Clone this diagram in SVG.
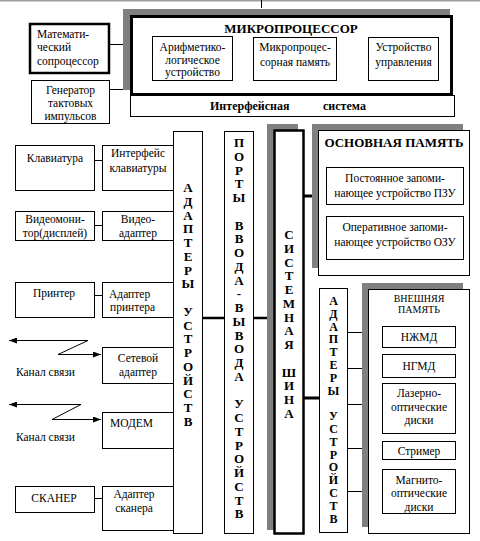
<svg xmlns="http://www.w3.org/2000/svg" width="480" height="541" viewBox="0 0 480 541" font-family="'Times New Roman', 'Liberation Serif', 'DejaVu Serif', serif">
<defs>
<marker id="ah" viewBox="0 0 8 6" refX="8" refY="3" markerWidth="8" markerHeight="6" markerUnits="userSpaceOnUse" orient="auto">
<path d="M0,0 L8,3 L0,6 Z" fill="#000"/>
</marker>
</defs>
<style>
rect{fill:#fff;stroke:#000;stroke-width:1}
.sh{fill:#808080;stroke:none}
.thk{stroke-width:3}
.t2{stroke-width:2.5}
text{font-family:'Times New Roman','Liberation Serif','DejaVu Serif',serif;font-size:11.5px;fill:#000}
.c{text-anchor:middle}
.b{font-weight:bold}
.tt{font-weight:bold;font-size:13px}
.v{font-weight:bold;font-size:13px;text-anchor:middle}
.vs{font-weight:bold;font-size:12px;text-anchor:middle}
line,polyline{stroke:#000;stroke-width:1;fill:none}
.bl{stroke-width:3}
</style>
<rect x="0" y="0" width="480" height="1.5" class="sh" style="fill:#a0a0a0"/>
<g id="connectors">
<line x1="261.5" y1="0" x2="261.5" y2="8"/>
<line x1="109" y1="44.5" x2="131" y2="44.5"/>
<line x1="109" y1="89.5" x2="131" y2="89.5"/>
<line x1="94" y1="160.5" x2="102" y2="160.5"/>
<line x1="94" y1="225.5" x2="102" y2="225.5"/>
<line x1="94" y1="295.5" x2="102" y2="295.5"/>
<line x1="94" y1="498.5" x2="102" y2="498.5"/>
<line x1="202" y1="318" x2="224" y2="318" style="stroke-width:2.5"/>
<line x1="253" y1="318" x2="274" y2="318" style="stroke-width:2.5"/>
<line x1="303" y1="196" x2="318" y2="196" class="bl"/>
<line x1="303" y1="398" x2="319" y2="398" class="bl"/>
<line x1="347" y1="332.5" x2="382" y2="332.5"/>
<line x1="347" y1="368.5" x2="382" y2="368.5"/>
<line x1="347" y1="404.5" x2="382" y2="404.5"/>
<line x1="347" y1="448.5" x2="382" y2="448.5"/>
<line x1="347" y1="491.5" x2="382" y2="491.5"/>
<line x1="88" y1="340.5" x2="9" y2="340.5" marker-end="url(#ah)"/>
<polyline points="88,340.5 58,354.5 101,354.5" marker-end="url(#ah)"/>
<line x1="81" y1="404.5" x2="9" y2="404.5" marker-end="url(#ah)"/>
<polyline points="81,404.5 52,419.5 101,419.5" marker-end="url(#ah)"/>
</g>
<g id="microprocessor">
<rect x="123" y="9" width="327" height="81" class="sh"/>
<rect x="131.5" y="16.5" width="320" height="78" class="thk"/>
<text x="291" y="33" class="c tt">МИКРОПРОЦЕССОР</text>
</g>
<g id="alu">
<rect x="152.5" y="36.5" width="80" height="44"/>
<text x="192.5" y="51" class="c">Арифметико-</text>
<text x="192.5" y="64" class="c">логическое</text>
<text x="192.5" y="76" class="c">устройство</text>
</g>
<g id="mpmem">
<rect x="253.5" y="37.5" width="83" height="43"/>
<text x="295" y="51" class="c">Микропроцес-</text>
<text x="295" y="66" class="c">сорная память</text>
</g>
<g id="cu">
<rect x="368.5" y="37.5" width="70" height="43"/>
<text x="403.5" y="51" class="c">Устройство</text>
<text x="403.5" y="66" class="c">управления</text>
</g>
<g id="interface">
<rect x="130.5" y="95.5" width="324" height="21"/>
<text x="210" y="110" class="b" style="font-size:12px">Интерфейсная</text>
<text x="323" y="110" class="b" style="font-size:12px">система</text>
</g>
<g id="coprocessor">
<rect x="30" y="24" width="79" height="49" class="t2"/>
<text x="37" y="38">Математи-</text>
<text x="37" y="51">ческий</text>
<text x="37" y="65">сопроцессор</text>
</g>
<g id="generator">
<rect x="31.5" y="80.5" width="78" height="43"/>
<text x="70.5" y="94" class="c">Генератор</text>
<text x="70.5" y="107" class="c">тактовых</text>
<text x="70.5" y="120" class="c">импульсов</text>
</g>
<g id="keyboard">
<rect x="15.5" y="145.5" width="79" height="45"/>
<text x="55" y="162" class="c">Клавиатура</text>
</g>
<g id="kbdif">
<rect x="102.5" y="145.5" width="71" height="45"/>
<text x="138" y="157" class="c">Интерфейс</text>
<text x="138" y="172" class="c">клавиатуры</text>
</g>
<g id="monitor">
<rect x="15.5" y="211.5" width="79" height="29"/>
<text x="55" y="223" class="c">Видеомони-</text>
<text x="55" y="237" class="c">тор(дисплей)</text>
</g>
<g id="videoadapter">
<rect x="102.5" y="211.5" width="71" height="29"/>
<text x="138" y="223" class="c">Видео-</text>
<text x="138" y="237" class="c">адаптер</text>
</g>
<g id="printer">
<rect x="15.5" y="282.5" width="79" height="35"/>
<text x="54" y="297" class="c">Принтер</text>
</g>
<g id="printeradapter">
<rect x="102.5" y="282.5" width="71" height="35"/>
<text x="109" y="298">Адаптер</text>
<text x="110" y="311">принтера</text>
</g>
<g id="netadapter">
<rect x="102.5" y="347.5" width="71" height="36"/>
<text x="138" y="362" class="c">Сетевой</text>
<text x="138" y="376" class="c">адаптер</text>
</g>
<g id="channel1">
<text x="16" y="376">Канал  связи</text>
</g>
<g id="modem">
<rect x="102.5" y="412.5" width="71" height="36"/>
<text x="110" y="427">МОДЕМ</text>
</g>
<g id="channel2">
<text x="16" y="441">Канал  связи</text>
</g>
<g id="scanner">
<rect x="15.5" y="486.5" width="79" height="26"/>
<text x="54" y="502" class="c">СКАНЕР</text>
</g>
<g id="scanneradapter">
<rect x="102.5" y="486.5" width="71" height="44"/>
<text x="134" y="498" class="c">Адаптер</text>
<text x="134" y="512" class="c">сканера</text>
</g>
<g id="adapters">
<rect x="173.5" y="131.5" width="29" height="402"/>
<text class="v"><tspan x="188" y="192">А</tspan><tspan x="188" y="205.75">Д</tspan><tspan x="188" y="219.5">А</tspan><tspan x="188" y="233.25">П</tspan><tspan x="188" y="247">Т</tspan><tspan x="188" y="260.75">Е</tspan><tspan x="188" y="274.5">Р</tspan><tspan x="188" y="288.25">Ы</tspan><tspan x="188" y="315.75">У</tspan><tspan x="188" y="329.5">С</tspan><tspan x="188" y="343.25">Т</tspan><tspan x="188" y="357">Р</tspan><tspan x="188" y="370.75">О</tspan><tspan x="188" y="384.5">Й</tspan><tspan x="188" y="398.25">С</tspan><tspan x="188" y="412">Т</tspan><tspan x="188" y="425.75">В</tspan></text>
</g>
<g id="ports">
<rect x="224.5" y="131.5" width="29" height="402"/>
<text class="v"><tspan x="239" y="147">П</tspan><tspan x="239" y="160.75">О</tspan><tspan x="239" y="174.5">Р</tspan><tspan x="239" y="188.25">Т</tspan><tspan x="239" y="202">Ы</tspan><tspan x="239" y="229.5">В</tspan><tspan x="239" y="243.25">В</tspan><tspan x="239" y="257">О</tspan><tspan x="239" y="270.75">Д</tspan><tspan x="239" y="284.5">А</tspan><tspan x="239" y="298.25">-</tspan><tspan x="239" y="312">В</tspan><tspan x="239" y="325.75">Ы</tspan><tspan x="239" y="339.5">В</tspan><tspan x="239" y="353.25">О</tspan><tspan x="239" y="367">Д</tspan><tspan x="239" y="380.75">А</tspan><tspan x="239" y="408.25">У</tspan><tspan x="239" y="422">С</tspan><tspan x="239" y="435.75">Т</tspan><tspan x="239" y="449.5">Р</tspan><tspan x="239" y="463.25">О</tspan><tspan x="239" y="477">Й</tspan><tspan x="239" y="490.75">С</tspan><tspan x="239" y="504.5">Т</tspan><tspan x="239" y="518.25">В</tspan></text>
</g>
<g id="bus">
<rect x="267" y="124" width="31" height="406" class="sh"/>
<rect x="274.5" y="130.5" width="29" height="403" class="t2"/>
<text class="v"><tspan x="289" y="239">С</tspan><tspan x="289" y="252.75">И</tspan><tspan x="289" y="266.5">С</tspan><tspan x="289" y="280.25">Т</tspan><tspan x="289" y="294">Е</tspan><tspan x="289" y="307.75">М</tspan><tspan x="289" y="321.5">Н</tspan><tspan x="289" y="335.25">А</tspan><tspan x="289" y="349">Я</tspan><tspan x="289" y="376.5">Ш</tspan><tspan x="289" y="390.25">И</tspan><tspan x="289" y="404">Н</tspan><tspan x="289" y="417.75">А</tspan></text>
</g>
<g id="mainmemory">
<rect x="312" y="124" width="151" height="144" class="sh"/>
<rect x="318.5" y="130.5" width="151" height="145"/>
<text x="394" y="147" class="c tt">ОСНОВНАЯ ПАМЯТЬ</text>
</g>
<g id="rom">
<rect x="326.5" y="167.5" width="137" height="37"/>
<text x="395" y="182" class="c">Постоянное запоми-</text>
<text x="395" y="197" class="c">нающее устройство ПЗУ</text>
</g>
<g id="ram">
<rect x="326.5" y="216.5" width="137" height="43"/>
<text x="395" y="231" class="c">Оперативное запоми-</text>
<text x="395" y="246" class="c">нающее устройство ОЗУ</text>
</g>
<g id="adapters2">
<rect x="319.5" y="288.5" width="28" height="244"/>
<text class="vs"><tspan x="333.5" y="305">А</tspan><tspan x="333.5" y="317.8">Д</tspan><tspan x="333.5" y="330.6">А</tspan><tspan x="333.5" y="343.4">П</tspan><tspan x="333.5" y="356.2">Т</tspan><tspan x="333.5" y="369">Е</tspan><tspan x="333.5" y="381.8">Р</tspan><tspan x="333.5" y="394.6">Ы</tspan><tspan x="333.5" y="420.2">У</tspan><tspan x="333.5" y="433">С</tspan><tspan x="333.5" y="445.8">Т</tspan><tspan x="333.5" y="458.6">Р</tspan><tspan x="333.5" y="471.4">О</tspan><tspan x="333.5" y="484.2">Й</tspan><tspan x="333.5" y="497">С</tspan><tspan x="333.5" y="509.8">Т</tspan><tspan x="333.5" y="522.6">В</tspan></text>
</g>
<g id="extmemory">
<rect x="362" y="283" width="101" height="244" class="sh"/>
<rect x="368.5" y="289.5" width="101" height="244"/>
<text x="419" y="302" class="c" style="font-size:10px">ВНЕШНЯЯ</text>
<text x="419" y="313" class="c" style="font-size:10px">ПАМЯТЬ</text>
</g>
<g id="hdd">
<rect x="382.5" y="326.5" width="73" height="21"/>
<text x="419" y="341" class="c">НЖМД</text>
</g>
<g id="fdd">
<rect x="382.5" y="354.5" width="73" height="23"/>
<text x="419" y="370" class="c">НГМД</text>
</g>
<g id="optical">
<rect x="382.5" y="383.5" width="73" height="50"/>
<text x="419" y="397" class="c">Лазерно-</text>
<text x="419" y="411" class="c">оптические</text>
<text x="419" y="424" class="c">диски</text>
</g>
<g id="streamer">
<rect x="382.5" y="441.5" width="73" height="18"/>
<text x="419" y="455" class="c">Стример</text>
</g>
<g id="magnetooptical">
<rect x="382.5" y="469.5" width="73" height="44"/>
<text x="419" y="484" class="c">Магнито-</text>
<text x="419" y="497" class="c">оптические</text>
<text x="419" y="511" class="c">диски</text>
</g>
</svg>
